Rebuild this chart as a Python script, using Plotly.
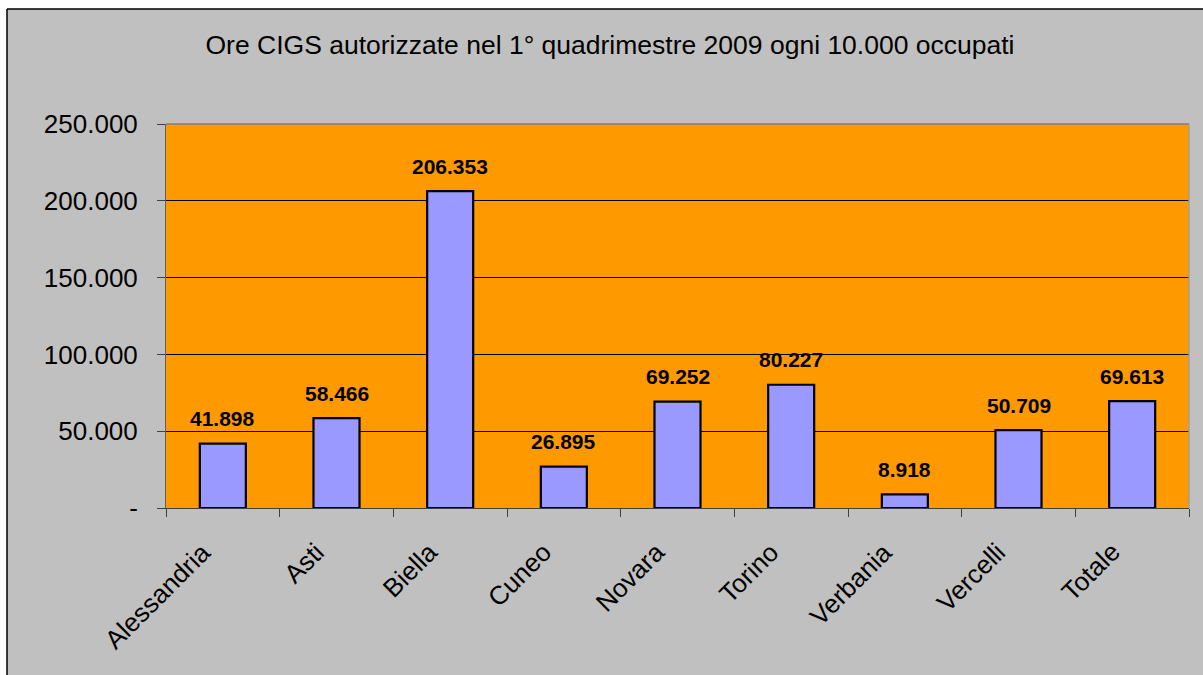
import plotly.graph_objects as go

categories = ["Alessandria", "Asti", "Biella", "Cuneo", "Novara", "Torino", "Verbania", "Vercelli", "Totale"]
values = [41898, 58466, 206353, 26895, 69252, 80227, 8918, 50709, 69613]
y_tickvals = [0, 50000, 100000, 150000, 200000, 250000]
y_ticktext = ["-", "50.000", "100.000", "150.000", "200.000", "250.000"]
title_text = "Ore CIGS autorizzate nel 1° quadrimestre 2009 ogni 10.000 occupati"

FONT = "Arial, Liberation Sans, sans-serif"


def it_fmt(v):
    return f"{v:,.0f}".replace(",", ".")


fig = go.Figure(go.Bar(
    x=categories, y=values,
    marker=dict(color="#9999FF", line=dict(color="black", width=2.2)),
    cliponaxis=False, hoverinfo="x+y",
))

W, H = 1203, 675
L, T, R, B = 166, 124, 1189, 508
pw, ph = R - L, B - T

annotations = []
for c, v in zip(categories, values):
    annotations.append(dict(x=c, y=v, xref="x", yref="y", text=it_fmt(v), showarrow=False,
                            yanchor="middle", xanchor="center", yshift=25,
                            font=dict(family=FONT, size=21, color="black", weight="bold")))
    annotations.append(dict(x=c, y=0, xref="x", yref="y", text=c, showarrow=False,
                            textangle=-45, xanchor="right", yanchor="top",
                            xshift=-4, yshift=-26,
                            font=dict(family=FONT, size=26, color="black")))

fig.update_layout(
    width=W, height=H,
    margin=dict(l=L, r=W - R, t=T, b=H - B),
    paper_bgcolor="#C0C0C0", plot_bgcolor="#FF9900",
    showlegend=False,
    font=dict(family=FONT, color="black"),
    bargap=0.595,
    title=dict(text=title_text, font=dict(family=FONT, size=26.5, color="black"),
               xref="container", x=610 / W, xanchor="center",
               yref="container", y=1 - 45 / H, yanchor="middle"),
    xaxis=dict(type="category", range=[-0.5, len(categories) - 0.5],
               tickson="boundaries", ticks="outside", ticklen=8,
               tickcolor="#404040", showticklabels=False,
               showline=True, linecolor="#404040", linewidth=1, mirror=False,
               showgrid=False),
    yaxis=dict(range=[0, 250000], tickvals=y_tickvals, ticktext=y_ticktext,
               ticks="outside", ticklen=8, tickcolor="#404040",
               tickfont=dict(size=26, family=FONT),
               showline=True, linecolor="#606060", linewidth=1,
               showgrid=True, gridcolor="black", gridwidth=1,
               zeroline=False, ticklabelstandoff=14),
    annotations=annotations,
    shapes=[
        dict(type="line", xref="paper", yref="paper", x0=0, x1=1, y0=1, y1=1,
             line=dict(color="#808080", width=1.5), layer="above"),
        dict(type="line", xref="paper", yref="paper", x0=1, x1=1, y0=0, y1=1,
             line=dict(color="#A0A0A0", width=1.5), layer="above"),
        dict(type="rect", xref="paper", yref="paper",
             x0=(0 - L) / pw, x1=(7 - L) / pw, y0=(B - H) / ph, y1=B / ph,
             fillcolor="white", line=dict(width=0), layer="above"),
        dict(type="rect", xref="paper", yref="paper",
             x0=(0 - L) / pw, x1=(W - L) / pw, y0=(B - 9) / ph, y1=B / ph,
             fillcolor="white", line=dict(width=0), layer="above"),
        dict(type="line", xref="paper", yref="paper",
             x0=(7 - L) / pw, x1=(7 - L) / pw, y0=(B - H) / ph, y1=(B - 9) / ph,
             line=dict(color="black", width=1.5), layer="above"),
        dict(type="line", xref="paper", yref="paper",
             x0=(7 - L) / pw, x1=(W - L) / pw, y0=(B - 9) / ph, y1=(B - 9) / ph,
             line=dict(color="black", width=1.5), layer="above"),
    ],
)

fig.write_html("out.html", config={"displayModeBar": False},
               post_script="document.body.style.margin='0';document.body.style.padding='0';")
